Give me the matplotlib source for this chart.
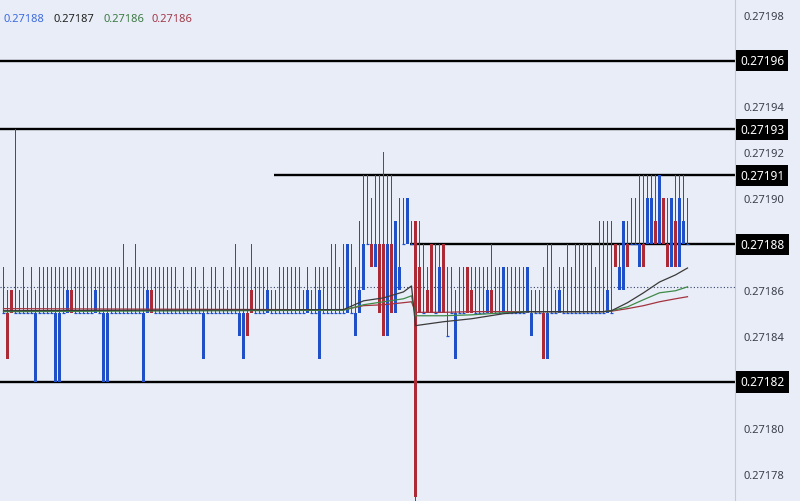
import matplotlib.pyplot as plt
import numpy as np

plt.rcParams['font.family'] = ['Noto Sans', 'DejaVu Sans']

# price grid: values are stored in pips above BASE
BASE = 0.27180
PIP = 0.00001

opens = [5, 5, 6, 5, 5, 5, 5, 5, 2, 5, 5, 5, 5, 2, 2, 5, 5, 6, 5, 5,
         5, 5, 5, 5, 5, 2, 2, 5, 5, 5, 5, 5, 5, 5, 5, 2, 5, 6, 5, 5,
         5, 5, 5, 5, 5, 5, 5, 5, 5, 5, 3, 5, 5, 5, 5, 5, 5, 5, 5, 4,
         3, 5, 6, 5, 5, 5, 5, 5, 5, 5, 5, 5, 5, 5, 5, 5, 5, 5, 5, 3,
         5, 5, 5, 5, 5, 5, 5, 5, 4, 5, 6, 8, 8, 7, 8, 8, 4, 8, 5, 6,
         8, 8, 8, 9, 7, 5, 6, 8, 5, 5, 8, 4, 5, 3, 5, 5, 7, 6, 5, 5,
         5, 5, 6, 5, 5, 5, 5, 5, 5, 5, 5, 5, 4, 5, 5, 5, 3, 5, 5, 5,
         5, 5, 5, 5, 5, 5, 5, 5, 5, 5, 5, 5, 5, 8, 6, 6, 8, 8, 8, 7,
         8, 8, 8, 9, 8, 10, 8, 7, 9, 7, 8, 8]
highs = [7, 6, 6, 13, 6, 7, 6, 7, 6, 7, 7, 7, 7, 7, 7, 7, 7, 7, 7, 7,
         7, 7, 7, 7, 7, 7, 7, 7, 7, 7, 8, 7, 7, 8, 7, 7, 7, 7, 7, 7,
         7, 7, 7, 7, 6, 7, 6, 7, 7, 6, 7, 6, 7, 7, 6, 7, 6, 7, 8, 7,
         7, 7, 8, 7, 7, 7, 7, 6, 6, 7, 7, 7, 7, 7, 7, 6, 7, 6, 7, 7,
         7, 7, 8, 8, 7, 8, 8, 8, 7, 9, 11, 11, 10, 11, 11, 12, 11, 11, 9, 10,
         10, 10, 9, 9, 9, 8, 7, 8, 8, 8, 8, 7, 7, 6, 7, 7, 7, 7, 7, 7,
         7, 7, 8, 7, 7, 7, 7, 7, 7, 7, 7, 7, 6, 6, 6, 7, 8, 8, 6, 7,
         7, 8, 7, 8, 8, 8, 8, 8, 7, 9, 9, 9, 9, 8, 8, 9, 9, 10, 10, 11,
         11, 11, 11, 11, 11, 10, 10, 10, 11, 11, 11, 10]
lows = [5, 3, 5, 5, 5, 5, 5, 5, 2, 5, 5, 5, 5, 2, 2, 5, 5, 5, 5, 5,
        5, 5, 5, 5, 5, 2, 2, 5, 5, 5, 5, 5, 5, 5, 5, 2, 5, 5, 5, 5,
        5, 5, 5, 5, 5, 5, 5, 5, 5, 5, 3, 5, 5, 5, 5, 5, 5, 5, 5, 4,
        3, 4, 5, 5, 5, 5, 5, 5, 5, 5, 5, 5, 5, 5, 5, 5, 5, 5, 5, 3,
        5, 5, 5, 5, 5, 5, 5, 5, 4, 5, 6, 8, 7, 7, 5, 4, 4, 5, 5, 6,
        8, 8, 8, -4, 5, 5, 5, 5, 5, 5, 5, 4, 5, 3, 5, 5, 5, 5, 5, 5,
        5, 5, 5, 5, 5, 5, 5, 5, 5, 5, 5, 5, 4, 5, 5, 3, 3, 5, 5, 5,
        5, 5, 5, 5, 5, 5, 5, 5, 5, 5, 5, 5, 5, 7, 6, 6, 7, 8, 8, 7,
        7, 8, 8, 8, 8, 8, 7, 7, 7, 7, 8, 8]
closes = [5, 3, 5, 5, 5, 5, 5, 5, 5, 5, 5, 5, 5, 5, 5, 5, 6, 5, 5, 5,
          5, 5, 5, 6, 5, 5, 5, 5, 5, 5, 5, 5, 5, 5, 5, 5, 6, 5, 5, 5,
          5, 5, 5, 5, 5, 5, 5, 5, 5, 5, 5, 5, 5, 5, 5, 5, 5, 5, 5, 5,
          5, 4, 5, 5, 5, 5, 6, 5, 5, 5, 5, 5, 5, 5, 5, 5, 6, 5, 5, 6,
          5, 5, 5, 5, 5, 5, 8, 5, 5, 6, 8, 8, 7, 8, 5, 4, 8, 5, 9, 7,
          8, 10, 8, -3, 5, 5, 5, 5, 5, 7, 5, 4, 5, 5, 5, 5, 5, 5, 5, 5,
          5, 6, 5, 5, 5, 7, 5, 5, 5, 5, 5, 7, 5, 5, 5, 3, 5, 5, 5, 6,
          5, 5, 5, 5, 5, 5, 5, 5, 5, 5, 5, 6, 5, 7, 7, 9, 7, 8, 8, 8,
          7, 10, 10, 8, 11, 8, 7, 10, 7, 10, 9, 8]

# moving averages read at a few bars
ma_idx = [0, 85, 90, 95, 100, 102, 103, 110, 117, 125, 131, 150, 152, 156, 160, 164, 168, 171]
ma_fast = [0.2718510, 0.2718515, 0.2718553, 0.2718566, 0.2718592, 0.2718618, 0.2718445, 0.2718462,
           0.2718475, 0.2718497, 0.2718506, 0.2718506, 0.2718510, 0.2718545, 0.2718588, 0.2718635,
           0.2718666, 0.2718696]
ma_mid = [0.2718506, 0.2718512, 0.2718536, 0.2718549, 0.2718562, 0.2718575, 0.2718488, 0.2718488,
          0.2718492, 0.2718501, 0.2718506, 0.2718506, 0.2718510, 0.2718527, 0.2718558, 0.2718588,
          0.2718597, 0.2718614]
ma_slow = [0.2718519, 0.2718514, 0.2718532, 0.2718536, 0.2718545, 0.2718549, 0.2718503, 0.2718503,
           0.2718506, 0.2718506, 0.2718506, 0.2718506, 0.2718508, 0.2718519, 0.2718532, 0.2718549,
           0.2718562, 0.2718571]

levels = [0.27196, 0.27193, 0.27191, 0.27188, 0.27182]
level_start = [None, None, 67.7, 101.7, None]
last_price = 0.2718614
tick_vals = [0.27178, 0.27180, 0.27184, 0.27186, 0.27190, 0.27192, 0.27194, 0.27198]
legend_vals = ['0.27188', '0.27187', '0.27186', '0.27186']

BG = '#e9edf7'
BLUE = '#1f50c8'
RED = '#ac2a36'

o = BASE + np.array(opens) * PIP
h = BASE + np.array(highs) * PIP
l = BASE + np.array(lows) * PIP
c = BASE + np.array(closes) * PIP
x = np.arange(len(o))

fig = plt.figure(figsize=(8, 5.02), dpi=100)
fig.patch.set_facecolor(BG)
ax = fig.add_axes([0, 0, 735 / 800, 1])
ax.set_facecolor(BG)

# 4 px per bar, bar centres on pixel centres
x_lo, x_hi = -0.875, 182.875
ax.set_xlim(x_lo, x_hi)
ax.set_ylim(0.2717681, 0.2719868)

# support / resistance lines
for lv, st in zip(levels, level_start):
    ax.hlines(lv, x_lo if st is None else st, x_hi, color='black', lw=1.7, zorder=1)

ax.axhline(last_price, color='#34406a', lw=0.8, ls=(0, (1, 2)), zorder=1)

# candles: wicks as 1 px bars so the colour stays solid
up = c >= o
cols = np.where(up, BLUE, RED)
ax.bar(x, h - l, bottom=l, width=0.25, color=cols, linewidth=0, zorder=2, antialiased=False)
body_lo = np.minimum(o, c)
body_h = np.abs(c - o)
flat = body_h == 0
ax.bar(x[~flat], body_h[~flat], bottom=body_lo[~flat], width=0.75,
       color=cols[~flat], linewidth=0, zorder=3, antialiased=False)
ax.hlines(o[flat], x[flat] - 0.375, x[flat] + 0.375, colors=cols[flat], lw=0.9, zorder=3)

# moving averages
ax.plot(ma_idx, ma_slow, color='#a3333f', lw=0.9, zorder=4)
ax.plot(ma_idx, ma_mid, color='#3f8a48', lw=0.9, zorder=4)
ax.plot(ma_idx, ma_fast, color='#3a3a3a', lw=0.9, zorder=4)

# axes styling
for s in ['top', 'left', 'bottom']:
    ax.spines[s].set_visible(False)
ax.spines['right'].set_color('#c5c9d6')
ax.spines['right'].set_linewidth(0.8)
ax.set_xticks([])
ax.yaxis.tick_right()
ax.set_yticks(tick_vals)
ax.set_yticklabels([f'{v:.5f}' for v in tick_vals])
ax.tick_params(axis='y', length=0, pad=6, labelsize=8, labelcolor='#3b3f4c')

# price tags for the levels
for lv in levels:
    ax.text(1.007, lv, f'{lv:.5f}', transform=ax.get_yaxis_transform(),
            ha='left', va='center', color='white', fontsize=8.5, fontweight='bold',
            bbox=dict(boxstyle='square,pad=0.35', fc='black', ec='none'), clip_on=False, zorder=6)

# legend values top-left
leg_cols = ['#3d6be0', '#222222', '#3d7a45', '#a33a4a']
leg_x = [4, 53, 103, 152]
for lx, txt, col in zip(leg_x, legend_vals, leg_cols):
    fig.text(lx / 800, 1 - 20 / 502, txt, color=col, fontsize=8, ha='left', va='center')

fig.savefig('out.png', dpi=100, facecolor=BG)
